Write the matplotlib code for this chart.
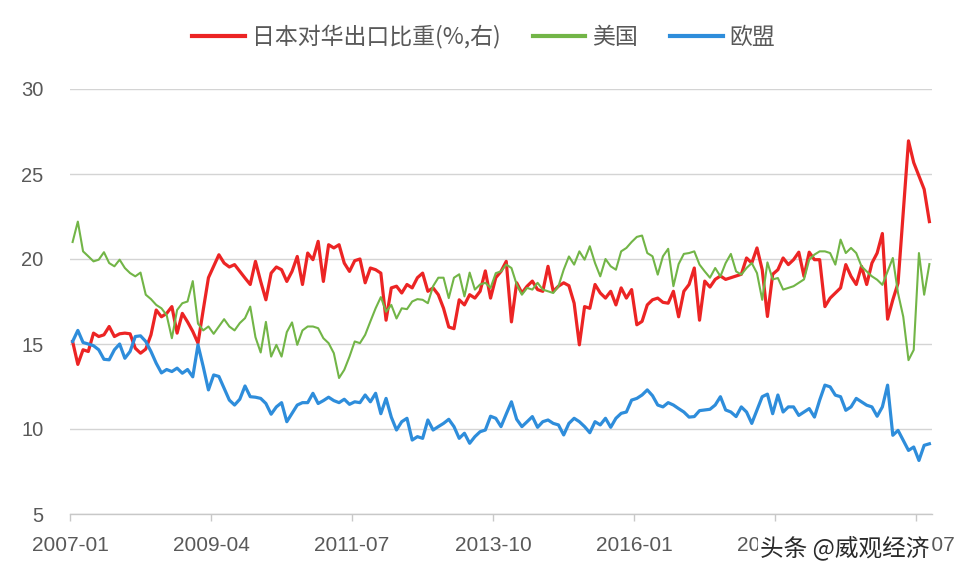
import numpy as np
import pandas as pd
import matplotlib
matplotlib.use("Agg")
import matplotlib.pyplot as plt
from matplotlib.lines import Line2D

plt.rcParams['font.family'] = ['Noto Sans CJK SC', 'DejaVu Sans']

# --- monthly data, 2007-01 .. 2020-09 ---
months = pd.period_range("2007-01", periods=165, freq="M").strftime("%Y-%m")

japan_china = [  # 日本对华出口比重 (%, right axis)
    15.15, 13.8, 14.66, 14.56, 15.64, 15.44, 15.54, 16.03, 15.44, 15.6,
    15.64, 15.6, 14.75, 14.46, 14.7, 15.54, 17.0, 16.6, 16.8, 17.2,
    15.64, 16.8, 16.3, 15.74, 15.05, 17.0, 18.9, 19.57, 20.25, 19.76,
    19.53, 19.67, 19.27, 18.88, 18.5, 19.86, 18.68, 17.6, 19.17, 19.53,
    19.37, 18.68, 19.27, 20.15, 18.5, 20.35, 19.96, 21.04, 18.68, 20.84,
    20.65, 20.84, 19.76, 19.27, 19.9, 20.0, 18.6, 19.47, 19.37, 19.17,
    16.4, 18.3, 18.4, 18.0, 18.5, 18.3, 18.9, 19.17, 18.1, 18.3,
    17.9, 17.1, 16.0, 15.9, 17.6, 17.3, 17.9, 17.7, 18.1, 19.3,
    17.7, 18.9, 19.27, 19.86, 16.3, 18.6, 18.0, 18.4, 18.7, 18.2,
    18.1, 19.57, 18.1, 18.4, 18.6, 18.43, 17.4, 14.95, 17.2, 17.1,
    18.5, 18.0, 17.7, 18.1, 17.3, 18.3, 17.7, 18.2, 16.13, 16.33,
    17.3, 17.6, 17.7, 17.45, 17.4, 18.1, 16.6, 18.1, 18.5, 19.47,
    16.4, 18.7, 18.35, 18.8, 19.0, 18.8, 18.9, 19.0, 19.1, 20.06,
    19.76, 20.65, 19.37, 16.62, 19.1, 19.37, 20.06, 19.67, 19.96, 20.4,
    18.98, 20.4, 19.96, 19.96, 17.2, 17.7, 18.0, 18.3, 19.67, 18.98,
    18.5, 19.57, 18.5, 19.76, 20.35, 21.5, 16.46, 17.6, 18.58, 22.8,
    26.95, 25.67, 24.88, 24.1, 22.2,
]

usa = [
    21.0, 22.2, 20.45, 20.16, 19.86, 19.96, 20.4, 19.76, 19.57, 19.96,
    19.47, 19.17, 18.98, 19.2, 17.9, 17.64, 17.3, 17.1, 16.7, 15.34,
    17.0, 17.4, 17.5, 18.7, 16.2, 15.8, 16.03, 15.6, 16.03, 16.46,
    16.03, 15.8, 16.23, 16.52, 17.2, 15.4, 14.5, 16.3, 14.26, 14.95,
    14.26, 15.7, 16.27, 14.95, 15.8, 16.03, 16.03, 15.93, 15.34, 15.05,
    14.46, 13.0, 13.48, 14.26, 15.15, 15.05, 15.54, 16.33, 17.1, 17.76,
    16.9, 17.3, 16.5, 17.1, 17.05, 17.5, 17.64, 17.6, 17.4, 18.4,
    18.9, 18.9, 17.7, 18.9, 19.1, 17.8, 19.2, 18.2, 18.5, 18.6,
    18.3, 19.17, 19.27, 19.67, 19.47, 18.5, 17.9, 18.3, 18.2, 18.6,
    18.2, 18.1, 18.0, 18.4, 19.37, 20.15, 19.67, 20.45, 19.96, 20.75,
    19.76, 18.98, 20.0, 19.57, 19.37, 20.45, 20.65, 21.0, 21.3, 21.38,
    20.35, 20.16, 19.08, 20.16, 20.6, 18.4, 19.7, 20.3, 20.35, 20.45,
    19.67, 19.27, 18.9, 19.47, 18.98, 19.76, 20.3, 19.27, 19.08, 19.47,
    19.76, 19.17, 17.6, 19.8, 18.8, 18.88, 18.2, 18.3, 18.4, 18.6,
    18.8, 19.96, 20.26, 20.45, 20.45, 20.35, 19.67, 21.14, 20.35, 20.65,
    20.35, 19.57, 19.27, 18.98, 18.78, 18.48, 19.27, 20.06, 17.99, 16.6,
    14.05, 14.65, 20.35, 17.9, 19.7,
]

eu = [
    15.15, 15.8, 15.09, 15.0, 14.9, 14.66, 14.1, 14.07, 14.66, 15.0,
    14.16, 14.56, 15.44, 15.48, 15.15, 14.56, 13.87, 13.3, 13.5, 13.38,
    13.58, 13.28, 13.5, 13.07, 14.95, 13.67, 12.3, 13.18, 13.09, 12.4,
    11.7, 11.41, 11.75, 12.53, 11.9, 11.87, 11.8, 11.5, 10.87, 11.3,
    11.55, 10.43, 10.92, 11.41, 11.55, 11.55, 12.1, 11.5, 11.67, 11.87,
    11.67, 11.55, 11.75, 11.45, 11.6, 11.55, 12.0, 11.6, 12.1, 10.9,
    11.8, 10.7, 9.94, 10.43, 10.63, 9.35, 9.55, 9.45, 10.53, 9.94,
    10.14, 10.33, 10.57, 10.14, 9.45, 9.75, 9.16, 9.55, 9.84, 9.94,
    10.75, 10.63, 10.14, 10.88, 11.6, 10.57, 10.14, 10.43, 10.73, 10.1,
    10.43, 10.53, 10.33, 10.24, 9.65, 10.33, 10.63, 10.43, 10.14, 9.78,
    10.43, 10.24, 10.63, 10.1, 10.63, 10.92, 11.0, 11.7, 11.8, 12.0,
    12.3, 11.96, 11.41, 11.3, 11.55, 11.41, 11.2, 11.0, 10.7, 10.73,
    11.08, 11.12, 11.16, 11.41, 11.9, 11.12, 11.0, 10.73, 11.3, 11.0,
    10.33, 11.12, 11.9, 12.05, 10.9, 12.0, 11.0, 11.3, 11.3, 10.8,
    11.0, 11.2, 10.7, 11.7, 12.58, 12.48, 11.99, 11.9, 11.1, 11.3,
    11.8, 11.6, 11.4, 11.3, 10.75, 11.3, 12.58, 9.63, 9.92, 9.33,
    8.74, 8.94, 8.15, 9.04, 9.13,
]

labels = ["日本对华出口比重(%,右)", "美国", "欧盟"]
colors = ["#ec2424", "#72b547", "#2e8ddb"]
tick_every = 27

x = np.arange(len(months))

fig = plt.figure(figsize=(9.62, 5.76), dpi=100)
ax = fig.add_axes([70 / 962, 62 / 576, 862 / 962, 425 / 576])

ax.plot(x, japan_china, color=colors[0], lw=2.3, zorder=3, solid_joinstyle="round")
ax.plot(x, usa, color=colors[1], lw=1.5, zorder=4, solid_joinstyle="round")
ax.plot(x, eu, color=colors[2], lw=2.3, zorder=3, solid_joinstyle="round")

ax.set_ylim(5, 30)
ax.set_yticks([5, 10, 15, 20, 25, 30])
ax.set_xlim(-0.5, len(months) - 0.5)
tick_pos = x[::tick_every] - 0.5
ax.set_xticks(tick_pos)
ax.set_xticklabels(months[::tick_every])

ax.grid(axis="y", color="#d4d4d4", lw=1.0)
ax.set_axisbelow(True)
for s in ["left", "right", "top"]:
    ax.spines[s].set_visible(False)
ax.spines["bottom"].set_color("#c8c8c8")
ax.spines["bottom"].set_linewidth(1.0)

ax.tick_params(axis="y", length=0, pad=19, labelsize=14.5, labelcolor="#595959")
ax.tick_params(axis="x", length=5, width=1, color="#c8c8c8", pad=11,
               labelsize=15, labelcolor="#595959")
for t in ax.get_xticklabels():
    t.set_family(["Liberation Sans Narrow", "Liberation Sans", "DejaVu Sans"])
for t in ax.get_yticklabels():
    t.set_family(["Liberation Sans", "DejaVu Sans"])

handles = [Line2D([], [], color=c, lw=3) for c in colors]
fig.legend(handles, labels, loc="center", bbox_to_anchor=(0.503, 1 - 37 / 576),
           ncol=3, frameon=False, fontsize=16.5, handlelength=2.3,
           handletextpad=0.3, columnspacing=1.4, labelcolor="#595959")

# watermark
fig.text(760 / 962, 1 - 548 / 576, "头条 @威观经济", fontsize=17, color="#2a2a2a",
         ha="left", va="center",
         bbox=dict(boxstyle="square,pad=0.1", fc="white", ec="none"))

fig.savefig("out.png", dpi=100)
